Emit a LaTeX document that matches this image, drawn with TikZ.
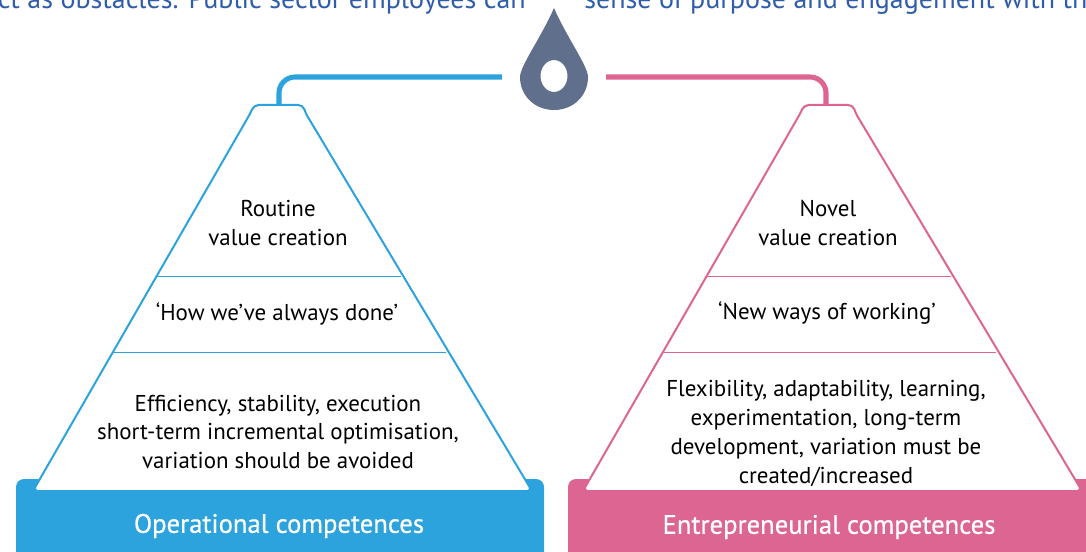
\documentclass[tikz,border=0pt]{standalone}
\usepackage{fontspec}
\setmainfont{PT Sans}
\newfontfamily\bandfont[FakeBold=0.6]{PT Sans}
\definecolor{cblue}{HTML}{2CA3DC}
\definecolor{cpink}{HTML}{DD6591}
\definecolor{cdrop}{HTML}{606F8C}
\definecolor{ctop}{HTML}{2F5DAB}
\begin{document}
\begin{tikzpicture}[x=0.75pt,y=-0.75pt,
  body/.style={font=\fontsize{17.2}{21.7}\selectfont,align=center,text=black,inner sep=0pt},
  band/.style={font=\fontsize{20}{24}\bandfont,text=white,inner sep=0pt},
  toptext/.style={font=\fontsize{21}{24}\selectfont,text=ctop,inner sep=0pt},
  feed/.style={line width=3.8pt},
  pyr/.style={line width=1.5pt,fill=white,rounded corners=3.5pt},
  rule/.style={line width=0.7pt},
]
\useasboundingbox (0,0) rectangle (1086,552);
\clip (0,0) rectangle (1086,552);
% cut-off running text at the top
\node[toptext,anchor=base east] (ta) at (526,8.5) {ct as obstacles. Public sector employees can};
\node[toptext,anchor=base west] (tb) at (584,8.5) {sense of purpose and engagement with the};
% drop
\fill[cdrop,even odd rule] (554,8) .. controls (542,36) and (520,66) .. (520,77)
  .. controls (520,96) and (535,110) .. (554,110)
  .. controls (573,110) and (588,96) .. (588,77)
  .. controls (588,66) and (566,36) .. (554,8) -- cycle
  (554,76) ellipse [x radius=13.5,y radius=16];
\coordinate (dropL) at (502,77);
\coordinate (dropR) at (606,77);
% left
\fill[cblue,rounded corners=6pt] (16,479) rectangle (544,570);
\draw[pyr,draw=cblue] (33,491) -- (250.5,113) -- (254,105) -- (303,105) -- (305.5,113) -- (532,491) -- cycle;
\coordinate (lTop) at (279,105);
\draw[feed,cblue,rounded corners=12pt] (dropL) -- (lTop |- dropL) -- (lTop);
\coordinate (la) at (157,276); \coordinate (lb) at (401,276);
\coordinate (lc) at (113,352); \coordinate (ld) at (446,352);
\draw[rule,cblue] (la) -- (lb) (lc) -- (ld);
\node[body] (l1) at (278,223) {Routine\\value creation};
\node[body] (l2) at (277,313.5) {‘How we’ve always done’};
\node[body] (l3) at (278,432) {Efficiency, stability, execution\\short-term incremental optimisation,\\variation should be avoided};
\node[band] (l4) at (279,526) {Operational competences};
% right
\fill[cpink,rounded corners=6pt] (568,479) rectangle (1110,570);
\draw[pyr,draw=cpink] (583,491) -- (800.5,113) -- (804,105) -- (853,105) -- (855.5,113) -- (1082,491) -- cycle;
\coordinate (rTop) at (826,105);
\draw[feed,cpink,rounded corners=12pt] (dropR) -- (rTop |- dropR) -- (rTop);
\coordinate (ra) at (707,276); \coordinate (rb) at (951,276);
\coordinate (rc) at (663,352); \coordinate (rd) at (996,352);
\draw[rule,cpink] (ra) -- (rb) (rc) -- (rd);
\node[body] (r1) at (828,223) {Novel\\value creation};
\node[body] (r2) at (827,313.5) {‘New ways of working’};
\node[body] (r3) at (826,433.5) {Flexibility, adaptability, learning,\\experimentation, long-term\\development, variation must be\\created/increased};
\node[band] (r4) at (829,527) {Entrepreneurial competences};
\end{tikzpicture}
\end{document}
